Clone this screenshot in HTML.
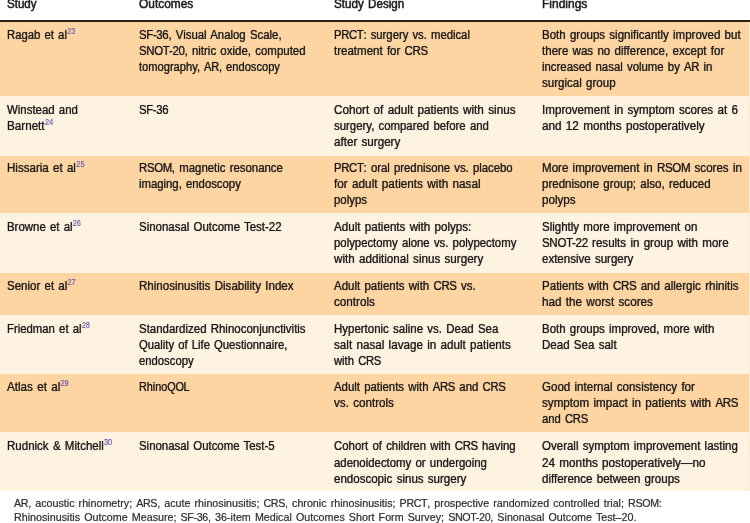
<!DOCTYPE html>
<html><head><meta charset="utf-8"><title>Table</title>
<style>
html,body{margin:0;padding:0;background:#fff;}
body{width:750px;height:523px;position:relative;overflow:hidden;font-family:"Liberation Sans",sans-serif;color:#1c1919;}
.r{position:absolute;left:0;width:750px;}
.t b{font-weight:normal;}
.t u{text-decoration:none;letter-spacing:-0.35px;}
.t{position:absolute;white-space:nowrap;font-size:12.0px;line-height:16px;height:16px;word-spacing:1.1px;-webkit-text-stroke:0.2px #1c1919;text-shadow:0 0 0.9px rgba(28,25,25,0.5);}
.t span{display:inline-block;transform-origin:0 50%;filter:blur(0.3px);}
.h{-webkit-text-stroke:0.4px #231f20;}
.f{font-size:10.4px;word-spacing:1.1px;color:#343030;-webkit-text-stroke:0.1px #343030;text-shadow:0 0 0.8px rgba(52,48,48,0.4);}
.t i{font-style:normal;display:inline-block;transform-origin:0 50%;transform:scaleX(0.9);font-size:8.6px;color:#7062b0;position:relative;top:-4.9px;letter-spacing:0;margin-left:0.4px;-webkit-text-stroke:0.1px #7062b0;text-shadow:0 0 0.8px rgba(112,98,176,0.4);}
.rule{position:absolute;left:0;width:750px;top:20.3px;height:1.6px;background:#2a2016;}
</style></head><body>
<div class="t h" style="left:7.00px;top:-4.00px"><span style="transform:scaleX(0.9646)"><b>Study</b></span></div>
<div class="t h" style="left:139.00px;top:-4.00px"><span style="transform:scaleX(0.9929)"><b>Outcomes</b></span></div>
<div class="t h" style="left:334.00px;top:-4.00px"><span style="transform:scaleX(0.9699)"><b>Study Design</b></span></div>
<div class="t h" style="left:542.00px;top:-4.00px"><span style="transform:scaleX(0.9987)"><b>Findings</b></span></div>
<div class="rule"></div>
<div class="r" style="top:21.5px;height:74.2px;background:#fcd5a2"></div>
<div class="t " style="left:7.00px;top:27.00px"><span style="transform:scaleX(0.9421)"><b>Ragab et al</b><i>23</i></span></div>
<div class="t " style="left:139.00px;top:27.00px"><span style="transform:scaleX(0.9500)"><b><u>SF-36</u>, Visual Analog Scale,</b></span></div>
<div class="t " style="left:139.00px;top:43.00px"><span style="transform:scaleX(0.9559)"><b><u>SNOT-20</u>, nitric oxide, computed</b></span></div>
<div class="t " style="left:139.00px;top:59.00px"><span style="transform:scaleX(0.9267)"><b>tomography, <u>AR</u>, endoscopy</b></span></div>
<div class="t " style="left:334.00px;top:27.00px"><span style="transform:scaleX(0.9397)"><b><u>PRCT</u>: surgery vs. medical</b></span></div>
<div class="t " style="left:334.00px;top:43.00px"><span style="transform:scaleX(0.9595)"><b>treatment for <u>CRS</u></b></span></div>
<div class="t " style="left:542.00px;top:27.00px"><span style="transform:scaleX(0.9586)"><b>Both groups significantly improved but</b></span></div>
<div class="t " style="left:542.00px;top:43.00px"><span style="transform:scaleX(0.9626)"><b>there was no difference, except for</b></span></div>
<div class="t " style="left:542.00px;top:59.00px"><span style="transform:scaleX(0.9483)"><b>increased nasal volume by <u>AR</u> in</b></span></div>
<div class="t " style="left:542.00px;top:75.00px"><span style="transform:scaleX(0.9623)"><b>surgical group</b></span></div>
<div class="r" style="top:95.7px;height:59.9px;background:#fef2e1"></div>
<div class="t " style="left:7.00px;top:102.00px"><span style="transform:scaleX(0.9519)"><b>Winstead and</b></span></div>
<div class="t " style="left:7.00px;top:118.00px"><span style="transform:scaleX(0.9715)"><b>Barnett</b><i>24</i></span></div>
<div class="t " style="left:139.00px;top:102.00px"><span style="transform:scaleX(0.9471)"><b><u>SF-36</u></b></span></div>
<div class="t " style="left:334.00px;top:102.00px"><span style="transform:scaleX(0.9784)"><b>Cohort of adult patients with sinus</b></span></div>
<div class="t " style="left:334.00px;top:118.00px"><span style="transform:scaleX(0.9493)"><b>surgery, compared before and</b></span></div>
<div class="t " style="left:334.00px;top:134.00px"><span style="transform:scaleX(0.9683)"><b>after surgery</b></span></div>
<div class="t " style="left:542.00px;top:102.00px"><span style="transform:scaleX(0.9687)"><b>Improvement in symptom scores at 6</b></span></div>
<div class="t " style="left:542.00px;top:118.00px"><span style="transform:scaleX(0.9751)"><b>and 12 months postoperatively</b></span></div>
<div class="r" style="top:155.6px;height:57.5px;background:#fcd5a2"></div>
<div class="t " style="left:7.00px;top:160.00px"><span style="transform:scaleX(0.9628)"><b>Hissaria et al</b><i>25</i></span></div>
<div class="t " style="left:139.00px;top:160.00px"><span style="transform:scaleX(0.9495)"><b><u>RSOM</u>, magnetic resonance</b></span></div>
<div class="t " style="left:139.00px;top:176.00px"><span style="transform:scaleX(0.9440)"><b>imaging, endoscopy</b></span></div>
<div class="t " style="left:334.00px;top:160.00px"><span style="transform:scaleX(0.9444)"><b><u>PRCT</u>: oral prednisone vs. placebo</b></span></div>
<div class="t " style="left:334.00px;top:176.00px"><span style="transform:scaleX(0.9785)"><b>for adult patients with nasal</b></span></div>
<div class="t " style="left:334.00px;top:192.00px"><span style="transform:scaleX(0.9485)"><b>polyps</b></span></div>
<div class="t " style="left:542.00px;top:160.00px"><span style="transform:scaleX(0.9633)"><b>More improvement in <u>RSOM</u> scores in</b></span></div>
<div class="t " style="left:542.00px;top:176.00px"><span style="transform:scaleX(0.9611)"><b>prednisone group; also, reduced</b></span></div>
<div class="t " style="left:542.00px;top:192.00px"><span style="transform:scaleX(0.9686)"><b>polyps</b></span></div>
<div class="r" style="top:213.1px;height:59.5px;background:#fef2e1"></div>
<div class="t " style="left:7.00px;top:219.00px"><span style="transform:scaleX(0.9520)"><b>Browne et al</b><i>26</i></span></div>
<div class="t " style="left:139.00px;top:219.00px"><span style="transform:scaleX(0.9544)"><b>Sinonasal Outcome Test-22</b></span></div>
<div class="t " style="left:334.00px;top:219.00px"><span style="transform:scaleX(0.9666)"><b>Adult patients with polyps:</b></span></div>
<div class="t " style="left:334.00px;top:235.00px"><span style="transform:scaleX(0.9459)"><b>polypectomy alone vs. polypectomy</b></span></div>
<div class="t " style="left:334.00px;top:251.00px"><span style="transform:scaleX(0.9692)"><b>with additional sinus surgery</b></span></div>
<div class="t " style="left:542.00px;top:219.00px"><span style="transform:scaleX(0.9585)"><b>Slightly more improvement on</b></span></div>
<div class="t " style="left:542.00px;top:235.00px"><span style="transform:scaleX(0.9628)"><b><u>SNOT-22</u> results in group with more</b></span></div>
<div class="t " style="left:542.00px;top:251.00px"><span style="transform:scaleX(0.9595)"><b>extensive surgery</b></span></div>
<div class="r" style="top:272.6px;height:42.0px;background:#fcd5a2"></div>
<div class="t " style="left:7.00px;top:278.00px"><span style="transform:scaleX(0.9586)"><b>Senior et al</b><i>27</i></span></div>
<div class="t " style="left:139.00px;top:278.00px"><span style="transform:scaleX(0.9646)"><b>Rhinosinusitis Disability Index</b></span></div>
<div class="t " style="left:334.00px;top:278.00px"><span style="transform:scaleX(0.9561)"><b>Adult patients with <u>CRS</u> vs.</b></span></div>
<div class="t " style="left:334.00px;top:294.00px"><span style="transform:scaleX(0.9731)"><b>controls</b></span></div>
<div class="t " style="left:542.00px;top:278.00px"><span style="transform:scaleX(0.9642)"><b>Patients with <u>CRS</u> and allergic rhinitis</b></span></div>
<div class="t " style="left:542.00px;top:294.00px"><span style="transform:scaleX(0.9725)"><b>had the worst scores</b></span></div>
<div class="r" style="top:314.6px;height:59.5px;background:#fef2e1"></div>
<div class="t " style="left:7.00px;top:321.00px"><span style="transform:scaleX(0.9454)"><b>Friedman et al</b><i>28</i></span></div>
<div class="t " style="left:139.00px;top:321.00px"><span style="transform:scaleX(0.9545)"><b>Standardized Rhinoconjunctivitis</b></span></div>
<div class="t " style="left:139.00px;top:337.00px"><span style="transform:scaleX(0.9382)"><b>Quality of Life Questionnaire,</b></span></div>
<div class="t " style="left:139.00px;top:353.00px"><span style="transform:scaleX(0.9406)"><b>endoscopy</b></span></div>
<div class="t " style="left:334.00px;top:321.00px"><span style="transform:scaleX(0.9562)"><b>Hypertonic saline vs. Dead Sea</b></span></div>
<div class="t " style="left:334.00px;top:337.00px"><span style="transform:scaleX(0.9704)"><b>salt nasal lavage in adult patients</b></span></div>
<div class="t " style="left:334.00px;top:353.00px"><span style="transform:scaleX(0.9365)"><b>with <u>CRS</u></b></span></div>
<div class="t " style="left:542.00px;top:321.00px"><span style="transform:scaleX(0.9547)"><b>Both groups improved, more with</b></span></div>
<div class="t " style="left:542.00px;top:337.00px"><span style="transform:scaleX(0.9614)"><b>Dead Sea salt</b></span></div>
<div class="r" style="top:374.1px;height:57.8px;background:#fcd5a2"></div>
<div class="t " style="left:7.00px;top:379.00px"><span style="transform:scaleX(0.9707)"><b>Atlas et al</b><i>29</i></span></div>
<div class="t " style="left:139.00px;top:379.00px"><span style="transform:scaleX(0.9038)"><b>Rhino<u>QOL</u></b></span></div>
<div class="t " style="left:334.00px;top:379.00px"><span style="transform:scaleX(0.9489)"><b>Adult patients with <u>ARS</u> and <u>CRS</u></b></span></div>
<div class="t " style="left:334.00px;top:395.00px"><span style="transform:scaleX(0.9693)"><b>vs. controls</b></span></div>
<div class="t " style="left:542.00px;top:379.00px"><span style="transform:scaleX(0.9633)"><b>Good internal consistency for</b></span></div>
<div class="t " style="left:542.00px;top:395.00px"><span style="transform:scaleX(0.9692)"><b>symptom impact in patients with <u>ARS</u></b></span></div>
<div class="t " style="left:542.00px;top:411.00px"><span style="transform:scaleX(0.9412)"><b>and <u>CRS</u></b></span></div>
<div class="r" style="top:431.9px;height:59.0px;background:#fef2e1"></div>
<div class="t " style="left:7.00px;top:438.00px"><span style="transform:scaleX(0.9603)"><b>Rudnick &amp; Mitchell</b><i>30</i></span></div>
<div class="t " style="left:139.00px;top:438.00px"><span style="transform:scaleX(0.9500)"><b>Sinonasal Outcome Test-5</b></span></div>
<div class="t " style="left:334.00px;top:438.00px"><span style="transform:scaleX(0.9497)"><b>Cohort of children with <u>CRS</u> having</b></span></div>
<div class="t " style="left:334.00px;top:455.00px"><span style="transform:scaleX(0.9498)"><b>adenoidectomy or undergoing</b></span></div>
<div class="t " style="left:334.00px;top:471.00px"><span style="transform:scaleX(0.9614)"><b>endoscopic sinus surgery</b></span></div>
<div class="t " style="left:542.00px;top:438.00px"><span style="transform:scaleX(0.9601)"><b>Overall symptom improvement lasting</b></span></div>
<div class="t " style="left:542.00px;top:455.00px"><span style="transform:scaleX(0.9759)"><b>24 months postoperatively—no</b></span></div>
<div class="t " style="left:542.00px;top:471.00px"><span style="transform:scaleX(0.9615)"><b>difference between groups</b></span></div>
<div style="position:absolute;left:748.8px;top:22px;width:1.2px;height:469px;background:#fdeed2"></div>
<div class="t f" style="left:14.20px;top:496.00px"><span style="transform:scaleX(1.0299)"><b><u>AR</u>, acoustic rhinometry; <u>ARS</u>, acute rhinosinusitis; <u>CRS</u>, chronic rhinosinusitis; <u>PRCT</u>, prospective randomized controlled trial; <u>RSOM</u>:</b></span></div>
<div class="t f" style="left:14.20px;top:510.00px"><span style="transform:scaleX(1.0312)"><b>Rhinosinusitis Outcome Measure; <u>SF-36</u>, 36-item Medical Outcomes Short Form Survey; <u>SNOT-20</u>, Sinonasal Outcome Test–20.</b></span></div>
</body></html>
